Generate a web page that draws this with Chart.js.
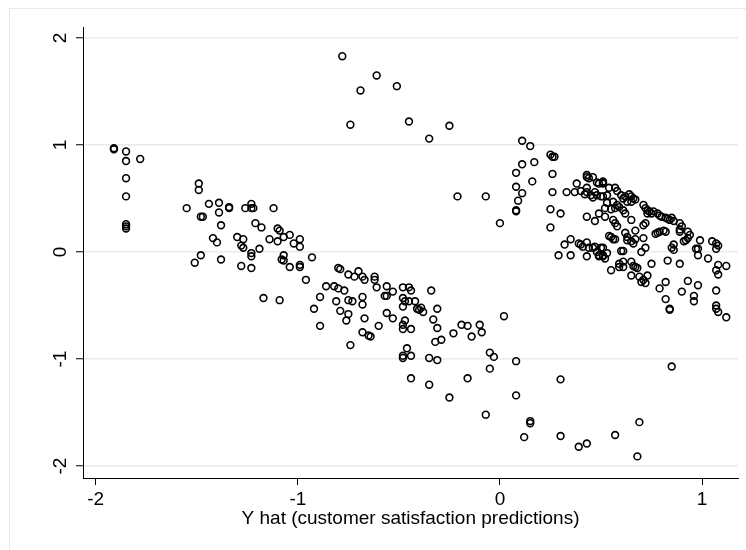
<!DOCTYPE html>
<html>
<head>
<meta charset="utf-8">
<script src="https://cdn.jsdelivr.net/npm/chart.js@4/dist/chart.umd.min.js"></script>
<style>
  body { margin: 0; background: #fff; }
</style>
</head>
<body>
<canvas id="myChart" width="746" height="550"></canvas>
<script>
// fitted values (x) and residuals (y), same order in both lists
var yhat = [
    // far left group
    -1.91,-1.91,-1.85,-1.85,-1.78,-1.85,-1.85,-1.85,-1.85,-1.85,
    // left cluster
    -1.49,-1.49,-1.55,-1.48,-1.47,-1.44,-1.39,-1.39,-1.34,-1.34,
    -1.38,-1.51,-1.48,-1.38,-1.42,-1.40,-1.26,-1.23,-1.23,-1.22,
    -1.12,-1.21,-1.18,-1.30,-1.27,-1.28,-1.27,-1.23,-1.23,-1.19,
    -1.28,-1.23,-1.14,-1.10,-1.09,-1.10,-1.07,-1.04,-1.02,-0.99,
    -0.99,-1.07,-1.08,-1.07,-1.04,-0.99,-0.99,-0.93,-0.96,
    // middle band
    -1.17,-1.09,-0.89,-0.92,-0.89,-0.86,-0.82,-0.80,-0.80,-0.79,
    -0.77,-0.81,-0.79,-0.76,-0.75,-0.75,-0.73,-0.75,-0.72,-0.70,
    -0.68,-0.67,-0.74,-0.68,-0.68,-0.67,-0.68,-0.65,-0.64,-0.62,
    -0.62,-0.61,-0.56,-0.57,-0.56,-0.53,-0.60,-0.56,-0.53,-0.48,
    -0.45,-0.44,-0.48,-0.47,-0.45,-0.42,-0.48,-0.41,-0.40,-0.39,
    -0.38,-0.47,-0.48,-0.48,-0.44,-0.34,-0.31,-0.33,-0.31,-0.32,
    -0.29,-0.23,-0.19,-0.16,-0.14,-0.10,-0.09,0.02,-0.46,-0.48,
    -0.48,-0.44,-0.35,-0.31,-0.44,-0.35,-0.25,-0.16,-0.05,-0.05,
    -0.03,0.08,0.08,-0.07,
    // top scattered
    -0.78,-0.69,-0.61,-0.51,-0.74,-0.45,-0.35,-0.25,-0.21,-0.07,0.00,
    // bottom scattered
    0.15,0.15,0.12,0.30,0.30,0.39,0.43,0.57,0.69,0.68,0.85,
    // right cluster, left edge
    0.11,0.15,0.25,0.26,0.27,0.11,0.17,0.08,0.26,0.16,
    0.08,0.11,0.09,0.08,0.08,0.26,0.25,0.30,0.25,0.33,
    0.38,0.37,0.40,
    // right cluster, upper band
    0.43,0.43,0.44,0.46,0.43,0.43,0.42,0.45,0.46,0.47,
    0.48,0.49,0.51,0.50,0.48,0.51,0.51,0.54,0.57,0.58,
    0.51,0.53,0.60,0.61,0.62,0.64,0.65,0.66,0.67,0.65,
    0.63,0.56,0.58,0.59,0.57,0.52,0.52,0.61,0.62,0.65,
    0.56,0.57,0.58,0.71,0.72,0.73,0.73,0.74,0.75,0.76,
    0.78,0.79,0.80,0.82,0.83,0.84,0.85,0.86,0.72,0.71,
    0.89,0.90,0.89,0.89,0.93,0.94,0.93,0.92,0.77,0.78,
    0.79,0.81,0.82,0.99,0.86,0.85,0.86,0.91,1.05,1.07,
    1.08,1.07,0.97,0.98,0.98,1.03,0.43,0.47,0.49,0.55,
    0.53,
    // right cluster, middle band
    0.54,0.56,0.62,0.63,0.63,0.65,0.66,0.67,0.67,0.71,
    0.72,0.70,0.60,0.51,0.51,0.53,0.52,0.51,0.35,0.32,
    0.29,0.35,0.39,0.40,0.41,0.43,0.44,0.43,0.46,0.47,
    0.48,0.49,0.50,0.49,0.55,0.57,0.61,
    // right cluster, lower part
    0.59,0.61,0.61,0.65,0.66,0.75,0.83,0.89,1.08,1.12,
    0.55,0.59,0.65,0.67,0.69,0.68,0.70,0.71,0.73,0.72,
    1.07,1.08,1.07,1.07,1.07,1.08,1.12,0.79,0.82,0.93,
    0.98,0.90,0.82,0.84,0.84,0.96,0.96
];
var resid = [
    0.97,0.96,0.94,0.85,0.87,0.69,0.52,0.26,0.24,0.22,

    0.64,0.58,0.41,0.33,0.33,0.45,0.46,0.37,0.42,0.41,
    0.25,-0.10,-0.03,-0.07,0.13,0.09,0.41,0.45,0.41,0.41,
    0.41,0.27,0.23,0.14,0.12,0.06,0.04,-0.01,-0.04,0.03,
    -0.13,-0.15,0.12,0.22,0.20,0.10,0.14,0.16,0.08,0.12,
    0.05,-0.03,-0.07,-0.08,-0.14,-0.12,-0.14,-0.05,-0.26,

    -0.43,-0.45,-0.42,-0.53,-0.69,-0.32,-0.32,-0.34,-0.15,-0.16,
    -0.36,-0.46,-0.55,-0.64,-0.58,-0.45,-0.46,-0.21,-0.23,-0.18,
    -0.23,-0.26,-0.87,-0.42,-0.49,-0.62,-0.75,-0.78,-0.79,-0.23,
    -0.26,-0.33,-0.32,-0.41,-0.41,-0.37,-0.69,-0.57,-0.62,-0.33,
    -0.33,-0.36,-0.43,-0.46,-0.46,-0.46,-0.51,-0.53,-0.54,-0.52,
    -0.56,-0.64,-0.68,-0.72,-0.72,-0.36,-0.53,-0.63,-0.71,-0.84,
    -0.82,-0.76,-0.68,-0.69,-0.79,-0.68,-0.75,-0.60,-0.90,-0.97,
    -0.99,-0.97,-0.99,-1.01,-1.18,-1.24,-1.36,-1.18,-1.09,-0.94,
    -0.98,-1.02,-1.34,-1.52,

    1.83,1.51,1.65,1.55,1.19,1.22,1.06,1.18,0.52,0.52,0.27,

    -1.58,-1.60,-1.73,-1.19,-1.72,-1.82,-1.79,-1.71,-1.59,-1.91,-1.07,

    1.04,0.99,0.91,0.89,0.89,0.82,0.84,0.74,0.73,0.66,
    0.61,0.55,0.48,0.39,0.38,0.56,0.40,0.36,0.23,0.56,
    0.64,0.56,0.57,

    0.72,0.70,0.69,0.70,0.60,0.56,0.54,0.53,0.51,0.56,
    0.65,0.64,0.65,0.52,0.53,0.66,0.64,0.60,0.60,0.57,
    0.52,0.53,0.53,0.50,0.52,0.54,0.52,0.50,0.49,0.47,
    0.47,0.47,0.44,0.42,0.41,0.41,0.33,0.39,0.36,0.30,
    0.30,0.27,0.24,0.44,0.41,0.39,0.36,0.38,0.36,0.38,
    0.36,0.34,0.33,0.32,0.31,0.30,0.32,0.29,0.27,0.25,
    0.27,0.24,0.21,0.19,0.19,0.16,0.13,0.11,0.17,0.18,
    0.19,0.20,0.19,0.11,0.07,0.04,0.02,0.10,0.10,0.08,
    0.06,0.03,0.03,0.03,-0.03,-0.06,0.33,0.29,0.36,0.40,
    0.46,

    0.15,0.12,0.18,0.14,0.11,0.10,0.08,0.12,0.20,0.13,
    0.04,0.00,0.01,0.04,-0.03,-0.01,-0.06,-0.04,0.12,0.07,
    -0.03,-0.03,0.08,0.07,0.05,0.09,0.04,-0.04,0.04,0.05,
    0.00,-0.03,0.04,-0.04,0.14,0.12,0.01,

    -0.11,-0.09,-0.14,-0.09,-0.13,-0.11,-0.08,-0.11,-0.12,-0.13,
    -0.17,-0.14,-0.22,-0.14,-0.23,-0.15,-0.28,-0.26,-0.22,-0.29,
    -0.17,-0.21,-0.36,-0.50,-0.53,-0.56,-0.61,-0.34,-0.28,-0.27,
    -0.31,-0.37,-0.44,-0.54,-0.53,-0.41,-0.46
];
var xTicks = [-2, -1, 0, 1];
var yTicks = [-2, -1, 0, 1, 2];
var xTitle = 'Y hat (customer satisfaction predictions)';

var points = yhat.map((x, i) => ({ x: x, y: resid[i] }));
var fontFamily = '"Liberation Sans", Arial, sans-serif';

// light outer frame like the stata graph region
var framePlugin = {
    id: 'frame',
    beforeDraw: (chart) => {
        let c = chart.ctx;
        c.save();
        c.fillStyle = '#fff';
        c.fillRect(0, 0, chart.width, chart.height);
        c.strokeStyle = '#e4ecee';
        c.lineWidth = 1;
        c.strokeRect(9.5, 8.5, 800, 600);
        c.restore();
    }
};

var chart = new Chart(document.getElementById('myChart'), {
    type: 'scatter',
    data: {
        datasets: [{
            data: points,
            pointStyle: 'circle',
            pointRadius: 3.4,
            pointBorderWidth: 1.6,
            borderColor: '#000',
            backgroundColor: 'rgba(0,0,0,0)'
        }]
    },
    plugins: [framePlugin],
    options: {
        responsive: false,
        animation: false,
        layout: { padding: { left: 0, top: 27, right: 8, bottom: 0 } },
        plugins: {
            legend: { display: false },
            tooltip: { enabled: false }
        },
        scales: {
            x: {
                type: 'linear',
                min: -2.063,
                max: 1.178,
                afterBuildTicks: (s) => { s.ticks = xTicks.map(v => ({ value: v })); },
                afterFit: (s) => { s.height = 72; },
                grid: { drawOnChartArea: false, tickLength: 7, tickColor: '#000', tickWidth: 1 },
                border: { color: '#000', width: 1 },
                ticks: {
                    color: '#000',
                    padding: 3,
                    maxRotation: 0,
                    font: { family: fontFamily, size: 19 },
                    callback: (v) => String(v)
                },
                title: {
                    display: true,
                    text: xTitle,
                    color: '#000',
                    font: { family: fontFamily, size: 19 },
                    padding: { top: 0, bottom: 19.5 }
                }
            },
            y: {
                type: 'linear',
                min: -2.112,
                max: 2.103,
                afterBuildTicks: (s) => { s.ticks = yTicks.map(v => ({ value: v })); },
                afterFit: (s) => { s.width = 83; },
                grid: { color: '#e4ecee', lineWidth: 1.5, tickLength: 7, tickColor: '#000', tickWidth: 1 },
                border: { color: '#000', width: 1 },
                ticks: {
                    color: '#000',
                    padding: 7,
                    minRotation: 90,
                    maxRotation: 90,
                    crossAlign: 'center',
                    font: { family: fontFamily, size: 19 },
                    callback: (v) => String(v)
                }
            }
        }
    }
});
</script>
</body>
</html>
